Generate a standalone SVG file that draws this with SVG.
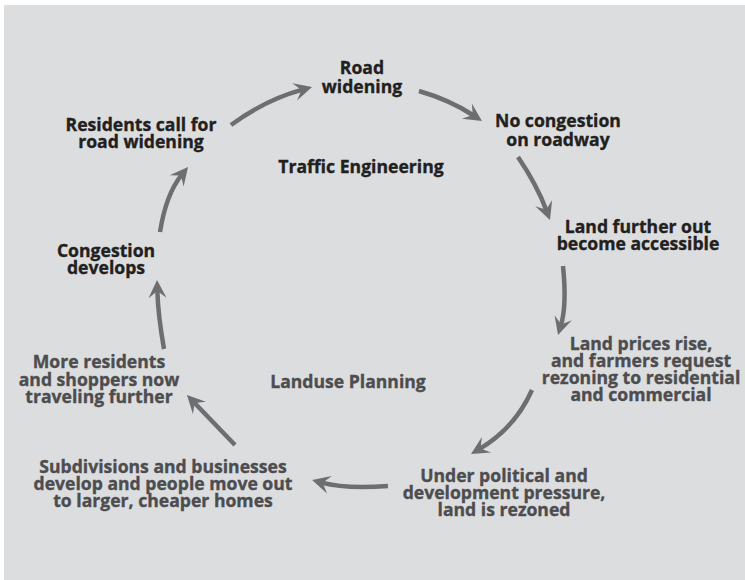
<svg xmlns="http://www.w3.org/2000/svg" width="745" height="580" viewBox="0 0 745 580">
  <style>
    text { font-family: "Open Sans", "Liberation Sans", sans-serif; font-weight: bold; font-size: 17.6px; text-anchor: middle; stroke-width: 0.35px; }
    .dark { fill: #231f20; stroke: #231f20; }
    .grey { fill: #4d4d4f; stroke: #4d4d4f; }
    .flow { fill: none; stroke: #6d6e71; stroke-width: 4.5; marker-end: url(#head); }
  </style>
  <defs>
    <marker id="head" markerUnits="userSpaceOnUse" markerWidth="40" markerHeight="40" refX="-10" refY="0" orient="auto" viewBox="-20 -20 40 40" overflow="visible">
      <path d="M0,0 L-18,-9 L-11,0 L-18,9 Z" fill="#6d6e71"/>
    </marker>
  </defs>

  <rect x="4" y="5" width="741" height="575" fill="#dcdddf"/>

  <!-- cycle arrows -->
  <g id="connectors">
    <path class="flow" d="M231,125 Q265,100 302.4,89.7"/>
    <path class="flow" d="M419,91 Q450,100 473.6,115.5"/>
    <path class="flow" d="M518,157 Q537,185 546.5,210.6"/>
    <path class="flow" d="M563,266 Q567,305 560.9,325.4"/>
    <path class="flow" d="M532,390 Q515,428 479.6,448.9"/>
    <path class="flow" d="M388,486 Q345,489 321.7,482.6"/>
    <path class="flow" d="M235,445 Q212,421 193.9,402.2"/>
    <path class="flow" d="M164,349 Q158,315 157.3,290"/>
    <path class="flow" d="M160,232 Q166,194 181.7,174.8"/>
  </g>

  <g id="road-widening">
    <text class="dark" x="362" y="74">Road</text>
    <text class="dark" x="362" y="93">widening</text>
  </g>
  <g id="no-congestion">
    <text class="dark" x="558" y="127">No congestion</text>
    <text class="dark" x="558" y="146">on roadway</text>
  </g>
  <g id="land-accessible">
    <text class="dark" x="638" y="233">Land further out</text>
    <text class="dark" x="638" y="250">become accessible</text>
  </g>
  <g id="land-prices">
    <text class="grey" x="641" y="350">Land prices rise,</text>
    <text class="grey" x="641" y="367">and farmers request</text>
    <text class="grey" x="641" y="384">rezoning to residential</text>
    <text class="grey" x="641" y="401">and commercial</text>
  </g>
  <g id="rezoned">
    <text class="grey" x="504" y="482">Under political and</text>
    <text class="grey" x="504" y="499">development pressure,</text>
    <text class="grey" x="504" y="516">land is rezoned</text>
  </g>
  <g id="subdivisions">
    <text class="grey" x="163" y="473">Subdivisions and businesses</text>
    <text class="grey" x="163" y="490">develop and people move out</text>
    <text class="grey" x="163" y="507">to larger, cheaper homes</text>
  </g>
  <g id="more-residents">
    <text class="grey" x="99" y="368">More residents</text>
    <text class="grey" x="99" y="386">and shoppers now</text>
    <text class="grey" x="99" y="403">traveling further</text>
  </g>
  <g id="congestion">
    <text class="dark" x="106" y="257">Congestion</text>
    <text class="dark" x="106" y="274">develops</text>
  </g>
  <g id="residents-call">
    <text class="dark" x="141" y="131">Residents call for</text>
    <text class="dark" x="141" y="148">road widening</text>
  </g>

  <g id="traffic-engineering">
    <text class="dark" x="361" y="173">Traffic Engineering</text>
  </g>
  <g id="landuse-planning">
    <text class="grey" x="348" y="388">Landuse Planning</text>
  </g>
</svg>
